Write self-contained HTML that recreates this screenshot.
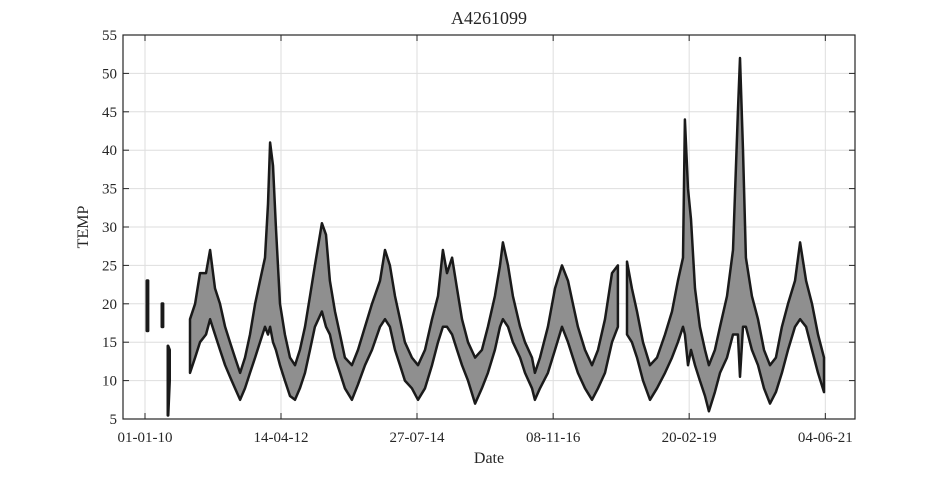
<!DOCTYPE html>
<html><head><meta charset="utf-8"><style>
body{margin:0;background:#fff;}
svg text{font-family:"Liberation Serif",serif;fill:#262626;}
</style></head><body>
<svg id="chart" width="945" height="472" xmlns="http://www.w3.org/2000/svg">
<rect width="945" height="472" fill="#fff"/>
<g id="grid"></g>
<g id="series"></g>
<g id="axes"></g>
<text x="489" y="24" text-anchor="middle" font-size="18">A4261099</text>
<text x="489" y="463" text-anchor="middle" font-size="16">Date</text>
<text transform="translate(88,227) rotate(-90)" text-anchor="middle" font-size="16">TEMP</text>
</svg>
<script>
const yTicks=[5,10,15,20,25,30,35,40,45,50,55];
const xTickDays=[0,834,1668,2503,3337,4172];
const xTickLabels=["01-01-10","14-04-12","27-07-14","08-11-16","20-02-19","04-06-21"];
const segADays=[12,18];const segAUpper=[23,23];const segALower=[16.5,16.5];
const segBDays=[104,110];const segBUpper=[20,20];const segBLower=[17,17];
const segCDays=[141,150];const segCUpper=[14.5,14];const segCLower=[5.5,10];
const segDDays=[276,307,337,374,399,429,460,491,521,552,583,613,644,675,705,736,754,767,785,803,828,858,889,920,950,981,1012,1042,1085,1110,1134,1165,1196,1226,1269,1306,1349,1392,1441,1472,1502,1533,1564,1594,1637,1674,1717,1760,1797,1827,1852,1883,1913,1944,1981,2024,2066,2103,2146,2177,2195,2226,2256,2300,2330,2373,2391,2422,2471,2514,2557,2594,2624,2655,2698,2741,2778,2821,2864,2900];
const segDUpper=[18,20,24,24,27,22,20,17,15,13,11,13,16,20,23,26,33,41,38,30,20,16,13,12,14,17,21,25,30.5,29,23,19,16,13,12,14,17,20,23,27,25,21,18,15,13,12,14,18,21,27,24,26,22,18,15,13,14,17,21,25,28,25,21,17,15,13,11,13,17,22,25,23,20,17,14,12,14,18,24,25];
const segDLower=[11,13,15,16,18,16,14,12,10.5,9,7.5,9,11,13,15,17,16,17,15,14,12,10,8,7.5,9,11,14,17,19,17,16,13,11,9,7.5,9.5,12,14,17,18,17,14,12,10,9,7.5,9,12,15,17,17,16,14,12,10,7,9,11,14,17,18,17,15,13,11,9,7.5,9,11,14,17,15,13,11,9,7.5,9,11,15,17];
const segEDays=[2956,2986,3017,3054,3097,3140,3189,3232,3268,3299,3311,3330,3348,3373,3403,3434,3458,3495,3526,3569,3606,3636,3649,3667,3685,3722,3759,3796,3833,3869,3906,3943,3986,4017,4054,4090,4127,4164];
const segEUpper=[25.5,22,19,15,12,13,16,19,23,26,44,35,31,22,17,14,12,14,17,21,27,45,52,40,26,21,18,14,12,13,17,20,23,28,23,20,16,13];
const segELower=[16,15,13,10,7.5,9,11,13,15,17,16,12,14,12,10,8,6,8.5,11,13,16,16,10.5,17,17,14,12,9,7,8.5,11,14,17,18,17,14,11,8.5];

const L=123,R=855,T=35,B=419;
const xs=d=>145+d*136/834;
const ys=v=>B-(v-5)*(B-T)/50;
const NS="http://www.w3.org/2000/svg";
function mk(tag,attrs,parent){const e=document.createElementNS(NS,tag);for(const k in attrs)e.setAttribute(k,attrs[k]);parent.appendChild(e);return e;}
const grid=document.getElementById('grid'),axes=document.getElementById('axes'),series=document.getElementById('series');
yTicks.forEach(v=>{
  const g=mk('line',{x1:L,x2:R,y1:ys(v),y2:ys(v),stroke:'#dedede','stroke-width':1},grid);
  
  
  const t=mk('text',{x:L-6,y:ys(v)+5,'text-anchor':'end','font-size':15},axes);
  t.textContent=v;
  
  
  mk('line',{x1:L,x2:L+6,y1:ys(v),y2:ys(v),stroke:'#262626'},axes);
  mk('line',{x1:R,x2:R-6,y1:ys(v),y2:ys(v),stroke:'#262626'},axes);
});
xTickDays.forEach((d,i)=>{
  const x=xs(d);
  const g=mk('line',{x1:x,x2:x,y1:T,y2:B,stroke:'#dedede','stroke-width':1},grid);
  
  
  const t=mk('text',{x:x,y:B+23,'text-anchor':'middle','font-size':15},axes);
  t.textContent=xTickLabels[i];
  
  
  mk('line',{x1:x,x2:x,y1:B,y2:B-6,stroke:'#262626'},axes);
  mk('line',{x1:x,x2:x,y1:T,y2:T+6,stroke:'#262626'},axes);
});
const box=mk('rect',{x:L,y:T,width:R-L,height:B-T,fill:'none',stroke:'#262626','stroke-width':1.2},axes);


function band(days,up,lo,name,sw){
  let pts=[];
  for(let i=0;i<days.length;i++)pts.push(xs(days[i]).toFixed(1)+','+ys(up[i]).toFixed(1));
  for(let i=days.length-1;i>=0;i--)pts.push(xs(days[i]).toFixed(1)+','+ys(lo[i]).toFixed(1));
  const p=mk('polygon',{points:pts.join(' '),fill:'#8f8f8f',stroke:'#1a1a1a','stroke-width':sw,'stroke-linejoin':'round'},series);
  
  
}
band(segADays,segAUpper,segALower,'temp-band-2010a',3);
band(segBDays,segBUpper,segBLower,'temp-band-2010b',3);
band(segCDays,segCUpper,segCLower,'temp-band-2010c',3);
band(segDDays,segDUpper,segDLower,'temp-band-2010-2017',2.5);
band(segEDays,segEUpper,segELower,'temp-band-2018-2021',2.5);
</script>
</body></html>
